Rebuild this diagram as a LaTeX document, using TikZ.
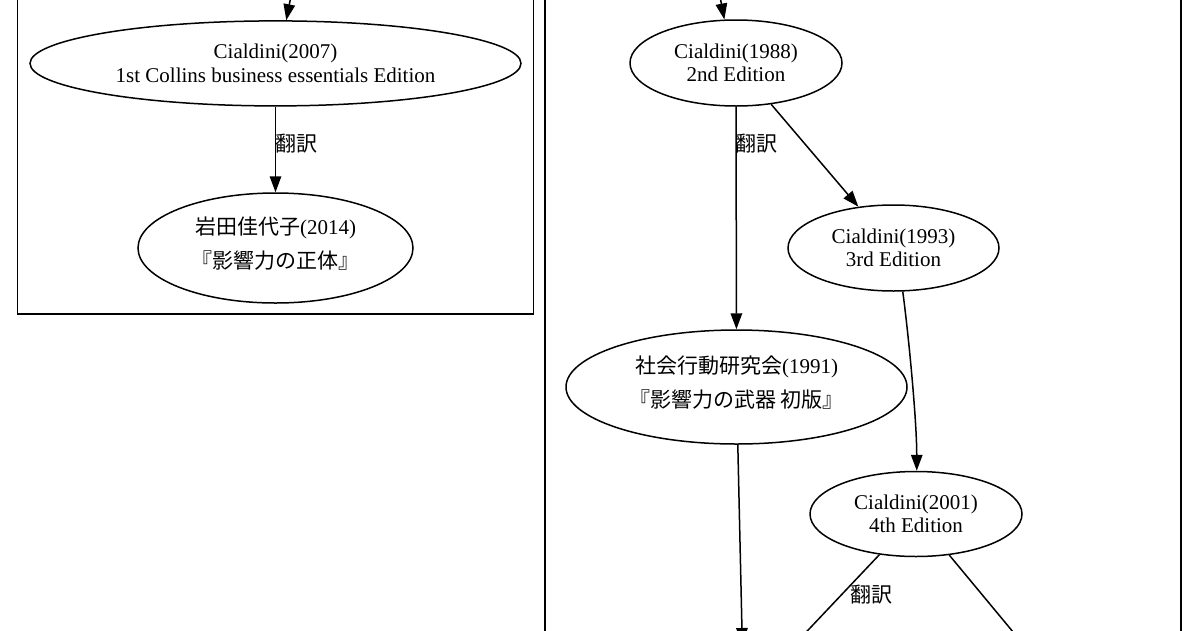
\documentclass[tikz,border=0pt]{standalone}
\usepackage{fontspec}
\setmainfont{Liberation Serif}
\newfontfamily\jp{Noto Sans CJK JP}
\usetikzlibrary{arrows.meta,shapes.geometric}
\newcommand{\dropdepth}{\rule[-11.5pt]{0pt}{11.5pt}}
\begin{document}
\begin{tikzpicture}[x=1pt,y=-1pt,
  every node/.style={font=\fontsize{21}{23.5}\selectfont},
  bk/.style={draw, ellipse, inner sep=0pt, line width=1.5pt, align=center},
  jpbk/.style={bk, font=\fontsize{21}{34}\selectfont},
  edge/.style={line width=1.5pt, -{Triangle[length=16pt,width=11.5pt]}},
  lbl/.style={font=\jp\fontsize{21}{23.5}\selectfont, inner sep=0pt},
  cluster/.style={draw, line width=1.5pt}]
\useasboundingbox (0,0) rectangle (1200,630);
\clip (0,0) rectangle (1200,630);
% clusters
\draw[cluster] (17.6,-20) rectangle (533.5,314);
\draw[cluster] (545,-20) rectangle (1181,650);
% nodes
\node[bk, minimum width=491pt, minimum height=85pt] (c2007) at (275.5,63.4)
  {Cialdini(2007)\\1st Collins business essentials Edition};
\node[jpbk, minimum width=275pt, minimum height=110pt] (iwata) at (275.5,248)
  {{\jp 岩田佳代子}(2014)\\{\jp 『影響力の正体』}\dropdepth};
\node[bk, minimum width=212pt, minimum height=86pt] (c1988) at (736,63)
  {Cialdini(1988)\\2nd Edition};
\node[bk, minimum width=211pt, minimum height=86pt] (c1993) at (893.5,248)
  {Cialdini(1993)\\3rd Edition};
\node[jpbk, minimum width=341pt, minimum height=114pt] (c1991) at (736.5,387)
  {{\jp 社会行動研究会}(1991)\\{\jp 『影響力の武器 初版』}\dropdepth};
\node[bk, minimum width=212pt, minimum height=85pt] (c2001) at (916,514)
  {Cialdini(2001)\\4th Edition};
% free ends
\coordinate (topL) at (296,-30);
\coordinate (topR) at (715,-30);
\coordinate (low1991) at (742.3,644);
\coordinate (lowL) at (742,700);
\coordinate (lowR) at (1069.5,700);
% edges
\draw[edge] (topL) -- (c2007.76);
\draw[edge] (topR) -- (c1988.105);
\draw[edge] (c2007) -- (iwata);
\node[lbl] (t1) at (296,144) {翻訳};
\draw[edge] (c1988) -- (c1991);
\node[lbl] (t2) at (756,144) {翻訳};
\draw[edge] (c1988) -- (c1993);
\draw[edge] (c1993.-78) .. controls +(6,45) and +(0,-50) .. (c2001.89);
\draw[edge] (c1991) -- (low1991);
\draw[edge] (c2001.-132) -- (lowL);
\draw[edge] (c2001.-51) -- (lowR);
\node[lbl] (t3) at (871,595) {翻訳};
\end{tikzpicture}
\end{document}
